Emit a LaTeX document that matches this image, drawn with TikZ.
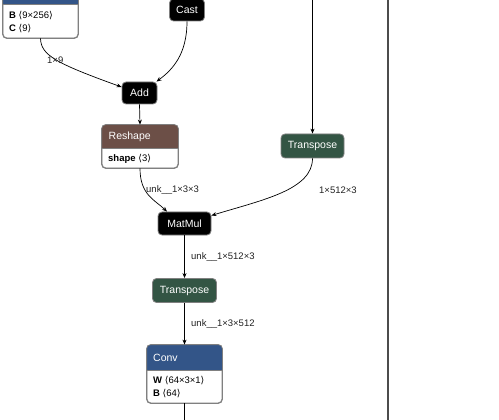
\documentclass[tikz,border=0pt]{standalone}
\usepackage{fontspec}
\setmainfont{Liberation Sans}
\newfontfamily\dvs{DejaVu Sans}
\usetikzlibrary{arrows.meta}
\definecolor{layerblue}{RGB}{51,85,136}
\definecolor{shapebrown}{RGB}{108,79,71}
\definecolor{transgreen}{RGB}{51,85,68}
\definecolor{bordergray}{RGB}{128,128,128}
\definecolor{labelgray}{RGB}{34,34,34}
\newcommand{\la}{{\dvs\char"27E8}}
\newcommand{\ra}{{\dvs\char"27E9}}
\tikzset{
  opbox/.style={draw=bordergray, line width=0.8pt, rounded corners=4pt, inner sep=0pt, minimum height=23pt, text=white, font=\fontsize{10.5}{12}\selectfont},
  blackop/.style={opbox, fill=black},
  greenop/.style={opbox, fill=transgreen},
  framebox/.style={draw=bordergray, line width=0.8pt, rounded corners=4pt, fill=white, inner sep=0pt},
  titletext/.style={text=white, anchor=west, inner sep=0pt, font=\fontsize{10.5}{12}\selectfont},
  attrtext/.style={anchor=west, inner sep=0pt, font=\fontsize{9.5}{11}\selectfont},
  edge/.style={draw=black, line width=0.7pt, -{Stealth[length=5pt,width=4pt]}},
  elabel/.style={anchor=west, inner sep=0pt, text=labelgray, font=\fontsize{9.5}{11}\selectfont},
}
\begin{document}
\begin{tikzpicture}[x=1pt,y=-1pt]
\useasboundingbox (0,0) rectangle (499,420);
\fill[white] (0,0) rectangle (499,420);

% panel border
\draw[line width=1.2pt, draw=black!70] (388,-2) -- (388,422);

% top-left partial node
\node[framebox, minimum width=75pt, minimum height=60pt] (tl) at (40.5,8) {};
\begin{scope}
  \clip[rounded corners=4pt] (tl.north west) rectangle (tl.south east);
  \fill[layerblue] (tl.north west) rectangle (78,4);
\end{scope}
\draw[draw=bordergray, line width=0.8pt, rounded corners=4pt] (tl.north west) rectangle (tl.south east);
\draw[draw=bordergray, line width=0.5pt] (3,4) -- (78,4);
\node[attrtext] (tlb) at (9,15.5) {\textbf{B} \la 9×256\ra};
\node[attrtext] (tlc) at (9,28.5) {\textbf{C} \la 9\ra};

% Cast
\node[blackop, minimum width=35pt, minimum height=22pt] (cast) at (187,10) {Cast};

% Add
\node[blackop, minimum width=35pt, minimum height=22pt] (add) at (139.5,93) {Add};

% Reshape
\node[framebox, minimum width=76pt, minimum height=43pt] (reshape) at (140,146.5) {};
\begin{scope}
  \clip[rounded corners=4pt] (reshape.north west) rectangle (reshape.south east);
  \fill[shapebrown] (reshape.north west) rectangle (178,148);
\end{scope}
\draw[draw=bordergray, line width=0.8pt, rounded corners=4pt] (reshape.north west) rectangle (reshape.south east);
\draw[draw=bordergray, line width=0.5pt] (102,148) -- (178,148);
\node[titletext] (reshapet) at (108.5,137) {Reshape};
\node[attrtext] (reshapea) at (108,159) {\textbf{shape} \la 3\ra};

% Transpose right
\node[greenop, minimum width=63pt, minimum height=24pt] (tr) at (312.5,146) {Transpose};

% MatMul
\node[blackop, minimum width=53pt, minimum height=23pt] (matmul) at (184.5,223.5) {MatMul};

% Transpose middle
\node[greenop, minimum width=64pt, minimum height=24pt] (tm) at (184.5,290.5) {Transpose};

% Conv
\node[framebox, minimum width=75pt, minimum height=58pt] (conv) at (184.5,374) {};
\begin{scope}
  \clip[rounded corners=4pt] (conv.north west) rectangle (conv.south east);
  \fill[layerblue] (conv.north west) rectangle (222,370);
\end{scope}
\draw[draw=bordergray, line width=0.8pt, rounded corners=4pt] (conv.north west) rectangle (conv.south east);
\draw[draw=bordergray, line width=0.5pt] (147,370) -- (222,370);
\node[titletext] (convt) at (153,358) {Conv};
\node[attrtext] (conva) at (153,380.5) {\textbf{W} \la 64×3×1\ra};
\node[attrtext] (convb) at (153,393.5) {\textbf{B} \la 64\ra};

% free end coordinates
\coordinate (topin) at (312.5,-2);
\coordinate (botout) at (184.5,422);

% edges
\draw[edge] (tl.south) .. controls (41,55) and (55,63) .. ([yshift=6pt]add.west);
\draw[edge] (cast.south) .. controls (187,55) and (172,70) .. ([xshift=17pt]add.north);
\draw[edge] (add.south) -- (reshape.north);
\draw[edge] (reshape.south) .. controls (140,195) and (155,200) .. ([xshift=-17.5pt]matmul.north);
\draw[edge] (tr.south) .. controls (312.5,190) and (262,200) .. ([yshift=8pt]matmul.east);
\draw[edge] (matmul.south) -- (tm.north);
\draw[edge] (tm.south) -- (conv.north);
\draw[line width=0.7pt] (conv.south) -- (botout);
\draw[edge] (topin) -- (tr.north);

% edge labels
\node[elabel] (l1) at (47,60.5) {1×9};
\node[elabel] (l2) at (146,190) {unk\_\_1×3×3};
\node[elabel] (l3) at (319,190) {1×512×3};
\node[elabel] (l4) at (191,257) {unk\_\_1×512×3};
\node[elabel] (l5) at (191,324) {unk\_\_1×3×512};
\end{tikzpicture}
\end{document}
